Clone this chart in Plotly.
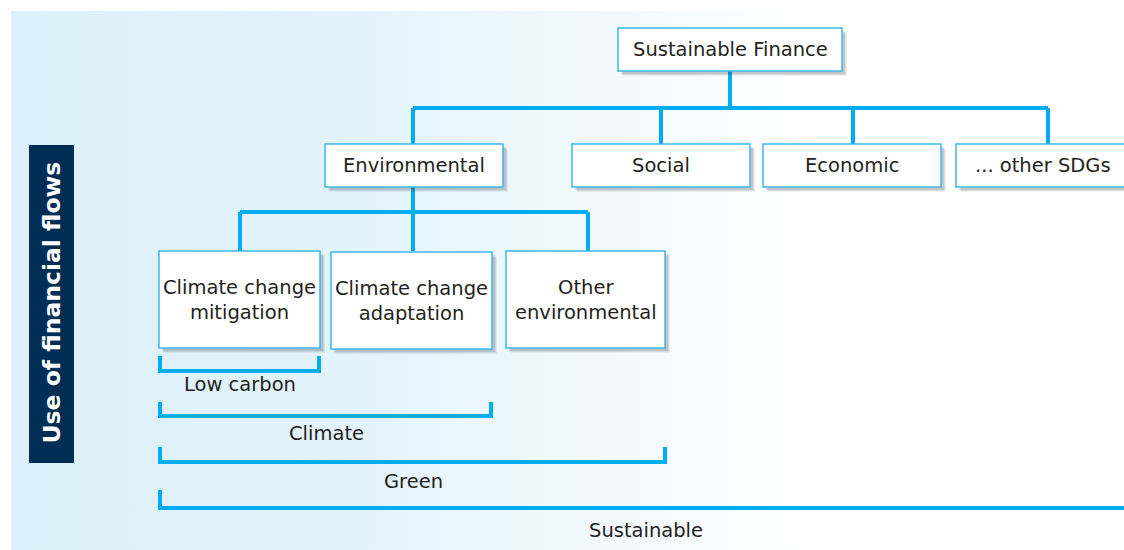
import plotly.graph_objects as go

# ---- content ----
root_label = "Sustainable Finance"
level2_labels = ["Environmental", "Social", "Economic", "... other SDGs"]
level3_labels = ["Climate change<br>mitigation", "Climate change<br>adaptation", "Other<br>environmental"]
bracket_labels = ["Low carbon", "Climate", "Green", "Sustainable"]
side_label = "Use of financial flows"

# ---- layout (pixel space of the page) ----
W, H = 1124, 550
root_box = (618, 28, 842, 71)
l2_boxes = [(325, 144, 503, 187), (572, 144, 750, 187), (763, 144, 941, 187), (956, 144, 1140, 187)]
l3_boxes = [(159, 251, 320, 348), (331, 252, 492, 349), (506, 251, 665, 348)]
brackets = [(160, 319, 356, 371, 384), (160, 491, 402, 416, 433), (160, 665, 447, 462, 481), (160, 1140, 490, 508, 530)]

LINE = "#00aeef"
BOX_LINE = "#3cb8ea"
TXT = "#231f20"
FONT = "DejaVu Sans"
FS = 19.5

fig = go.Figure()

# background gradient panel
fig.add_trace(go.Scatter(
    x=[11, W + 20, W + 20, 11, 11], y=[11, 11, H + 20, H + 20, 11],
    mode="lines", line=dict(width=0), fill="toself",
    fillgradient=dict(type="horizontal",
                      colorscale=[[0, "#dbf0fa"], [0.3, "#e3f3fb"], [0.55, "#f3fafe"], [0.7, "#ffffff"], [1, "#ffffff"]]),
    hoverinfo="skip", showlegend=False))

shapes = []
annotations = []

def line(x0, y0, x1, y1, w=4, c=LINE):
    shapes.append(dict(type="line", xref="x", yref="y", x0=x0, y0=y0, x1=x1, y1=y1,
                       line=dict(color=c, width=w)))

def box(b, text, size=FS, tx=None):
    x0, y0, x1, y1 = b
    for d, op in [(5, 0.08), (4, 0.10), (3, 0.14)]:
        shapes.append(dict(type="rect", xref="x", yref="y", x0=x0 + d, y0=y0 + d, x1=x1 + d, y1=y1 + d,
                           fillcolor=f"rgba(60,60,70,{op})", line=dict(width=0)))
    shapes.append(dict(type="rect", xref="x", yref="y", x0=x0, y0=y0, x1=x1, y1=y1,
                       fillcolor="white", line=dict(color=BOX_LINE, width=1.5)))
    annotations.append(dict(x=tx if tx is not None else (x0 + x1) / 2, y=(y0 + y1) / 2,
                            xref="x", yref="y", text=text, showarrow=False,
                            font=dict(family=FONT, size=size, color=TXT)))

# connectors: root -> level 2
line(730, 71, 730, 108)
line(413, 108, 1048, 108)
for cx in [413, 661, 853, 1048]:
    line(cx, 108, cx, 144)
# environmental -> level 3
line(413, 187, 413, 212)
line(240, 212, 588, 212)
for cx in [240, 413, 588]:
    line(cx, 212, cx, 251)

box(root_box, root_label)
text_x = [None, None, None, 1043]
for b, t, tx in zip(l2_boxes, level2_labels, text_x):
    box(b, t, tx=tx)
for b, t in zip(l3_boxes, level3_labels):
    box(b, t)

# brackets
label_x = [240, 326, 413, 646]
for (x0, x1, yt, yb, ly), t, lx in zip(brackets, bracket_labels, label_x):
    line(x0, yb, x1, yb)
    line(x0, yt, x0, yb + 2)
    if x1 < W:
        line(x1, yt, x1, yb + 2)
    annotations.append(dict(x=lx, y=ly, xref="x", yref="y", text=t, showarrow=False,
                            font=dict(family=FONT, size=FS, color=TXT)))

# side label
shapes.append(dict(type="rect", xref="x", yref="y", x0=29, y0=145, x1=74, y1=463,
                   fillcolor="#002d54", line=dict(width=0)))
annotations.append(dict(x=51.5, y=303, xref="x", yref="y", text="<b>" + side_label + "</b>",
                        textangle=-90, showarrow=False,
                        font=dict(family=FONT, size=23.5, color="white")))

fig.update_layout(
    width=W, height=H, margin=dict(l=0, r=0, t=0, b=0),
    paper_bgcolor="white", plot_bgcolor="white",
    xaxis=dict(range=[0, W], visible=False, fixedrange=True),
    yaxis=dict(range=[H, 0], visible=False, fixedrange=True),
    shapes=shapes, annotations=annotations, showlegend=False)

fig.write_html("out.html", config={"displayModeBar": False},
               post_script="document.body.style.margin='0';document.body.style.overflow='hidden';")
